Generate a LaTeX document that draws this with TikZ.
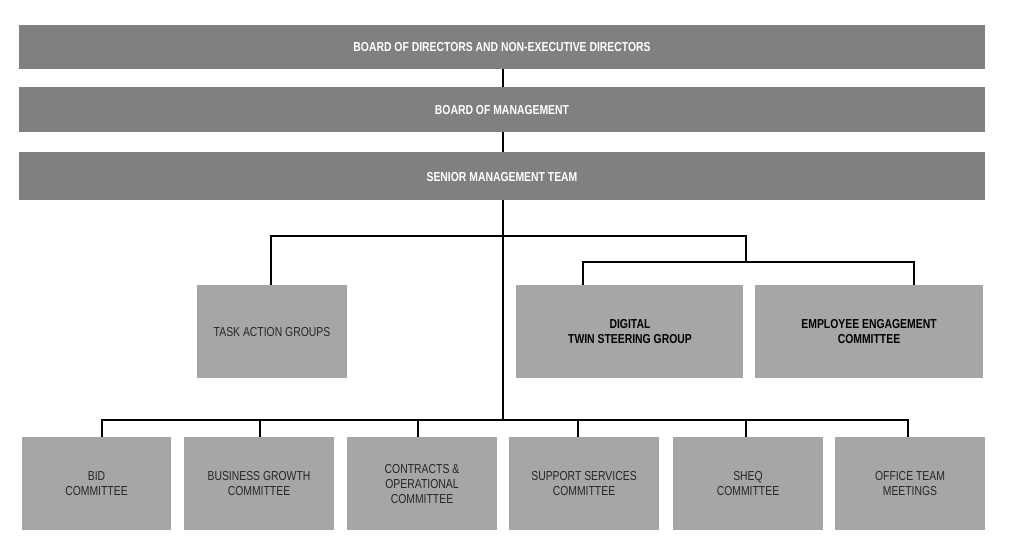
\documentclass[tikz,border=0pt]{standalone}
\usepackage{fontspec}
\setmainfont[FakeStretch=0.8]{Liberation Sans}
\definecolor{dark}{HTML}{808080}
\definecolor{light}{HTML}{A6A6A6}
\begin{document}
\begin{tikzpicture}[x=1pt,y=-1pt,
 bar/.style={fill=dark,draw=none,text=white,font=\bfseries\fontsize{13}{14}\selectfont},
 box/.style={fill=light,draw=none,align=center,font=\fontsize{13}{15}\selectfont,text=black!85},
 bbox/.style={box,font=\bfseries\fontsize{13}{15}\selectfont,text=black},
 ln/.style={line width=2.2pt,black}]
\useasboundingbox (0,0) rectangle (1011,540);
\fill[dark] (19,25) rectangle (985,69); \node[bar] (b1) at (502,47) {BOARD OF DIRECTORS AND NON-EXECUTIVE DIRECTORS};
\fill[dark] (19,87) rectangle (985,132); \node[bar] (b2) at (502,110) {BOARD OF MANAGEMENT};
\fill[dark] (19,152) rectangle (985,200); \node[bar] (b3) at (502,177) {SENIOR MANAGEMENT TEAM};
\coordinate (t1) at (503,69); \coordinate (t2) at (503,87);
\coordinate (t3) at (503,132); \coordinate (t4) at (503,152);
\draw[ln] (t1)--(t2); \draw[ln] (t3)--(t4);
\coordinate (s) at (503,200); \coordinate (sb) at (503,421);
\draw[ln] (s)--(sb);
\fill[light] (197,285) rectangle (347,378); \node[box] (tag) at (272,332) {TASK ACTION GROUPS};
\fill[light] (516,285) rectangle (743,378); \node[bbox] (dt) at (630,332) {DIGITAL\\TWIN STEERING GROUP};
\fill[light] (755,285) rectangle (983,378); \node[bbox] (ee) at (869,332) {EMPLOYEE ENGAGEMENT\\COMMITTEE};
\draw[ln] (271,285)--(271,236)--(746,236)--(746,262);
\draw[ln] (583,285)--(583,262)--(914,262)--(914,285);
\draw[ln] (102,437)--(102,420)--(908,420)--(908,437);
\foreach \x in {260,418,578,746} \draw[ln] (\x,420)--(\x,437);
\foreach \a/\b/\n/\t in {22/171/c1/{BID\\COMMITTEE},184/334/c2/{BUSINESS GROWTH\\COMMITTEE},347/497/c3/{CONTRACTS \&\\OPERATIONAL\\COMMITTEE},509/659/c4/{SUPPORT SERVICES\\COMMITTEE},673/823/c5/{SHEQ\\COMMITTEE},835/985/c6/{OFFICE TEAM\\MEETINGS}}
{\fill[light] (\a,437) rectangle (\b,530); \node[box] (\n) at ({(\a+\b)/2},484) {\t};}
\end{tikzpicture}
\end{document}
